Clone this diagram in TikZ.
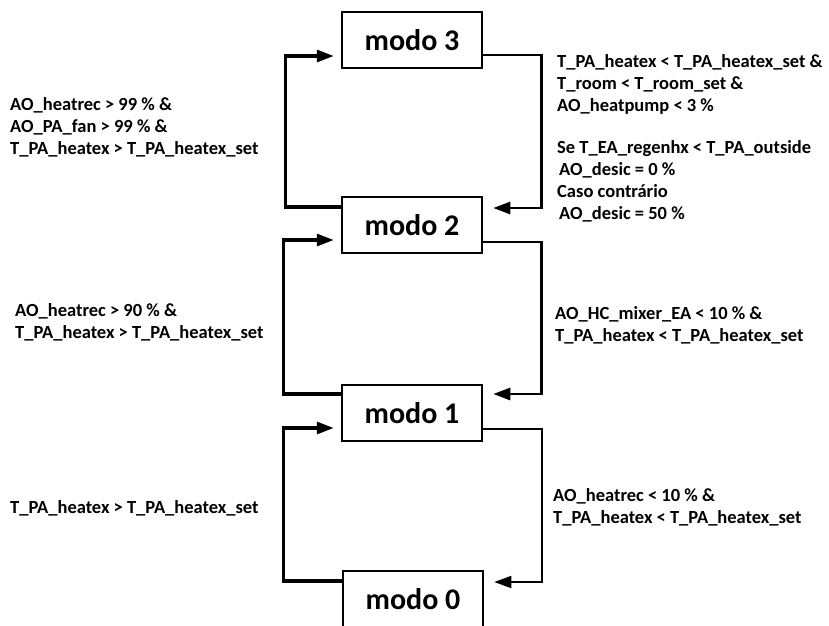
\documentclass[tikz,border=0pt]{standalone}
\usepackage{fontspec}
\setmainfont{Carlito}
\usetikzlibrary{arrows.meta}
\tikzset{
  modebox/.style={draw, line width=2.5pt, minimum width=140pt, minimum height=56pt, inner sep=0pt,
    font=\fontsize{30}{32}\selectfont\bfseries},
  leftline/.style={line width=3.2pt, -{Triangle[length=17pt,width=12pt]}},
  rightline/.style={line width=2.8pt, -{Triangle[length=17pt,width=12pt]}},
  thinline/.style={line width=1.8pt, -{Triangle[length=17pt,width=12pt]}},
  cond/.style={anchor=base west, inner sep=0pt, align=left,
    font=\fontsize{18.5}{22}\selectfont\bfseries}
}
\begin{document}
\begin{tikzpicture}[x=1pt,y=-1pt]
\useasboundingbox (0,0) rectangle (829,625);
\clip (0,0) rectangle (829,625);
\node[modebox] (m3) at (412,40) {modo 3};
\node[modebox] (m2) at (412,225) {modo 2};
\node[modebox] (m1) at (412,413) {modo 1};
\node[modebox] (m0) at (413,599) {modo 0};

% left (upward) connectors
\draw[leftline] ([yshift=18pt]m2.west) -- ++(-55,0) |- ([xshift=-7pt,yshift=-16pt]m3.west);
\draw[leftline] ([yshift=19pt]m1.west) -- ++(-57,0) |- ([xshift=-7pt,yshift=-15pt]m2.west);
\draw[leftline] ([yshift=18pt]m0.west) -- ++(-58,0) |- ([xshift=-7pt,yshift=-15pt]m1.west);

% right (downward) connectors
\draw[rightline] ([yshift=-15pt]m3.east) -- ++(58,0) |- ([xshift=10pt,yshift=17pt]m2.east);
\draw[rightline] ([yshift=-17pt]m2.east) -- ++(58,0) |- ([xshift=10pt,yshift=19pt]m1.east);
\draw[thinline] ([yshift=-16pt]m1.east) -- ++(59,0) |- ([xshift=10pt,yshift=17pt]m0.east);

% conditions (anchor = baseline of last line)
\node[cond] (c32a) at (557,111) {T\_PA\_heatex < T\_PA\_heatex\_set \&\\T\_room < T\_room\_set \&\\AO\_heatpump < 3 \%};
\node[cond] (c32b) at (557,219) {Se T\_EA\_regenhx < T\_PA\_outside\\\hspace{2pt}AO\_desic = 0 \%\\Caso contrário\\\hspace{2pt}AO\_desic = 50 \%};
\node[cond] (c23) at (10,154) {AO\_heatrec > 99 \% \&\\AO\_PA\_fan > 99 \% \&\\T\_PA\_heatex > T\_PA\_heatex\_set};
\node[cond] (c12) at (15,338) {AO\_heatrec > 90 \% \&\\T\_PA\_heatex > T\_PA\_heatex\_set};
\node[cond] (c21) at (555,341) {AO\_HC\_mixer\_EA < 10 \% \&\\T\_PA\_heatex < T\_PA\_heatex\_set};
\node[cond] (c01) at (10,513) {T\_PA\_heatex > T\_PA\_heatex\_set};
\node[cond] (c10) at (553,523) {AO\_heatrec < 10 \% \&\\T\_PA\_heatex < T\_PA\_heatex\_set};
\end{tikzpicture}
\end{document}
